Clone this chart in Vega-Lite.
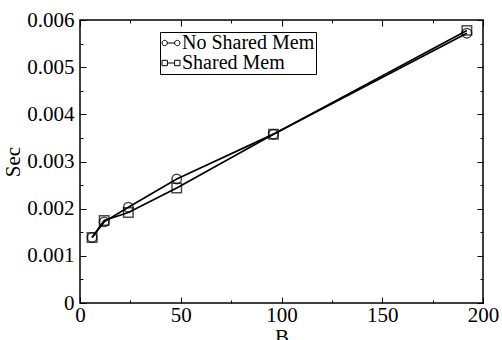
{
  "$schema": "https://vega.github.io/schema/vega-lite/v6.json",
  "width": 403,
  "height": 283,
  "autosize": "none",
  "padding": {"left": 80, "top": 20, "right": 19, "bottom": 37},
  "background": "white",
  "config": {
    "font": "Liberation Serif",
    "view": {"stroke": "black", "strokeWidth": 1.5},
    "legend": {"labelFont": "Liberation Serif"},
    "axis": {
      "domain": false,
      "grid": false,
      "tickColor": "black",
      "tickWidth": 1,
      "labelFont": "Liberation Serif",
      "labelFontSize": 21,
      "labelColor": "black",
      "titleFont": "Liberation Serif",
      "titleFontWeight": "normal",
      "titleColor": "black",
      "titleFontSize": 21
    }
  },
  "data": {
    "values": [
      {"B": 6, "sec": 0.00139, "series": "No Shared Mem"},
      {"B": 12, "sec": 0.00172, "series": "No Shared Mem"},
      {"B": 24, "sec": 0.00203, "series": "No Shared Mem"},
      {"B": 48, "sec": 0.00263, "series": "No Shared Mem"},
      {"B": 96, "sec": 0.00358, "series": "No Shared Mem"},
      {"B": 192, "sec": 0.00572, "series": "No Shared Mem"},
      {"B": 6, "sec": 0.00139, "series": "Shared Mem"},
      {"B": 12, "sec": 0.00175, "series": "Shared Mem"},
      {"B": 24, "sec": 0.00192, "series": "Shared Mem"},
      {"B": 48, "sec": 0.00244, "series": "Shared Mem"},
      {"B": 96, "sec": 0.00358, "series": "Shared Mem"},
      {"B": 192, "sec": 0.00578, "series": "Shared Mem"}
    ]
  },
  "layer": [
    {
      "mark": {"type": "line", "color": "black", "strokeWidth": 1.7},
      "encoding": {
        "x": {"field": "B", "type": "quantitative", "scale": {"domain": [0, 200], "nice": false},
          "axis": {"orient": "bottom", "values": [0, 50, 100, 150, 200], "tickSize": -6, "labelPadding": 7, "title": "B", "titlePadding": 1, "labelFlush": false}},
        "y": {"field": "sec", "type": "quantitative", "scale": {"domain": [0, 0.006], "nice": false, "zero": false},
          "axis": {"orient": "left", "values": [0, 0.001, 0.002, 0.003, 0.004, 0.005, 0.006], "format": "~g", "tickSize": -6, "labelPadding": 12, "title": "Sec", "titlePadding": 3, "labelFlush": false}},
        "detail": {"field": "series"}
      }
    },
    {
      "mark": {"type": "point", "filled": false, "color": "black", "strokeWidth": 1.5, "size": 90},
      "encoding": {
        "x": {"field": "B", "type": "quantitative",
          "axis": {"orient": "top", "values": [0, 50, 100, 150, 200], "tickSize": -6, "labels": false, "title": null}},
        "y": {"field": "sec", "type": "quantitative",
          "axis": {"orient": "right", "values": [0, 0.001, 0.002, 0.003, 0.004, 0.005, 0.006], "tickSize": -6, "labels": false, "title": null}},
        "shape": {"field": "series", "type": "nominal",
          "scale": {"domain": ["No Shared Mem", "Shared Mem"], "range": ["circle", "square"]}, "legend": null}
      }
    },
    {
      "mark": {"type": "point", "filled": false, "color": "black", "opacity": 0},
      "encoding": {
        "x": {"field": "B", "type": "quantitative",
          "axis": {"orient": "bottom", "values": [25, 75, 125, 175], "tickSize": -3, "labels": false, "title": null}},
        "y": {"field": "sec", "type": "quantitative",
          "axis": {"orient": "left", "values": [0.0005, 0.0015, 0.0025, 0.0035, 0.0045, 0.0055], "tickSize": -3, "labels": false, "title": null}},
        "shape": {"field": "series", "type": "nominal",
          "scale": {"domain": ["No Shared Mem", "Shared Mem"],
            "range": ["M-0.4,0 A0.3,0.3 0 1,1 -1,0 A0.3,0.3 0 1,1 -0.4,0 Z M1,0 A0.3,0.3 0 1,1 0.4,0 A0.3,0.3 0 1,1 1,0 Z M-0.4,0 L0.4,0",
                      "M-1,-0.3 H-0.4 V0.3 H-1 Z M0.4,-0.3 H1 V0.3 H0.4 Z M-0.4,0 L0.4,0"]},
          "legend": {"orient": "none", "legendX": 80, "legendY": 12, "title": null, "strokeColor": "black", "padding": 1,
            "labelFontSize": 20, "labelColor": "black", "labelOffset": 1,
            "symbolSize": 324, "symbolStrokeColor": "black", "symbolFillColor": "transparent", "symbolStrokeWidth": 1,
            "symbolOpacity": 1, "rowPadding": 0}}
      }
    },
    {
      "mark": {"type": "point", "opacity": 0},
      "encoding": {
        "x": {"field": "B", "type": "quantitative",
          "axis": {"orient": "top", "values": [25, 75, 125, 175], "tickSize": -3, "labels": false, "title": null}},
        "y": {"field": "sec", "type": "quantitative",
          "axis": {"orient": "right", "values": [0.0005, 0.0015, 0.0025, 0.0035, 0.0045, 0.0055], "tickSize": -3, "labels": false, "title": null}}
      }
    }
  ],
  "resolve": {"scale": {"shape": "independent"}, "axis": {"x": "independent", "y": "independent"}}
}
